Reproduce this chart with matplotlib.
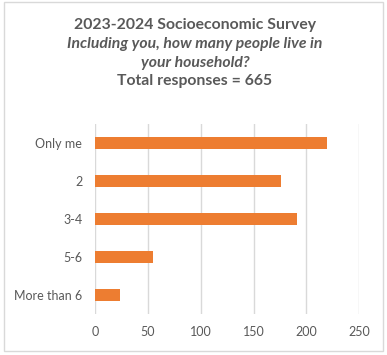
import matplotlib
matplotlib.use("Agg")
import matplotlib.pyplot as plt
from matplotlib.patches import Rectangle

categories = ["Only me", "2", "3-4", "5-6", "More than 6"]
responses = [220, 176, 191, 55, 23]
x_ticks = [0, 50, 100, 150, 200, 250]

title_line1 = "2023-2024 Socioeconomic Survey"
title_line2 = "Including you, how many people live in"
title_line3 = "your household?"
title_line4 = "Total responses = 665"

W, H = 387, 355
fig = plt.figure(figsize=(W / 100, H / 100), dpi=100)
fig.patch.set_facecolor("white")

# outer chart border
fig.add_artist(Rectangle((4 / W, 4 / H), (W - 8) / W, (H - 6) / H,
                         transform=fig.transFigure, fill=False,
                         edgecolor="#D9D9D9", linewidth=1.0))

txt = "#595959"
font = "Lato"
cx = 195 / W
tsize = 11.3
fig.text(cx, 1 - 25 / H, title_line1, ha="center", va="center",
         fontsize=tsize, fontweight="bold", color=txt, family=font)
fig.text(cx, 1 - 44 / H, title_line2, ha="center", va="center",
         fontsize=tsize, fontweight="bold", style="italic", color=txt, family=font)
fig.text(cx, 1 - 63 / H, title_line3, ha="center", va="center",
         fontsize=tsize, fontweight="bold", style="italic", color=txt, family=font)
fig.text(cx, 1 - 81 / H, title_line4, ha="center", va="center",
         fontsize=tsize, fontweight="bold", color=txt, family=font)

left, right, top, bottom = 95.3, 359.0, 124.0, 314.0
ax = fig.add_axes([left / W, 1 - bottom / H, (right - left) / W, (bottom - top) / H])

ypos = list(range(len(categories)))
ax.barh(ypos, responses, height=0.31, color="#ED7D31", zorder=3)
ax.set_ylim(len(categories) - 0.5, -0.5)
ax.set_xlim(x_ticks[0], x_ticks[-1])
ax.set_xticks(x_ticks)
ax.set_yticks(ypos)
ax.set_yticklabels(categories)
ax.xaxis.grid(True, color="#D9D9D9", linewidth=1.0, zorder=0)
for s in ax.spines.values():
    s.set_visible(False)
ax.tick_params(axis="both", length=0, colors=txt, labelsize=9)
ax.tick_params(axis="x", pad=9)
ax.tick_params(axis="y", pad=9.4)
for lab in ax.get_xticklabels() + ax.get_yticklabels():
    lab.set_family(font)
    lab.set_color(txt)

fig.savefig("out.png", dpi=100)
